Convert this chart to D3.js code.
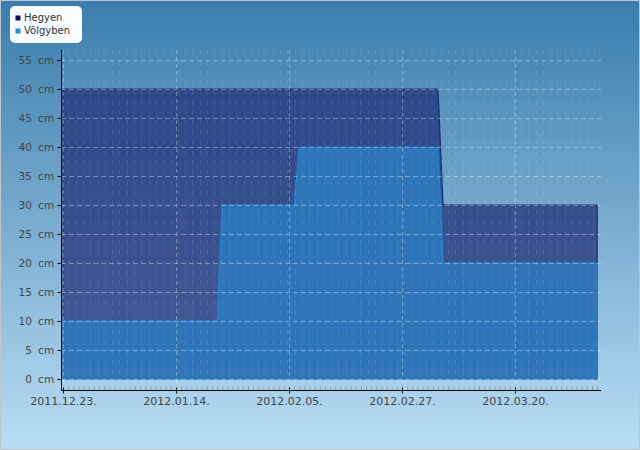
<!DOCTYPE html>
<html><head><meta charset="utf-8">
<script src="https://cdn.jsdelivr.net/npm/d3@7/dist/d3.min.js"></script>
<style>body{margin:0;padding:0;overflow:hidden}svg{display:block}</style>
</head><body>
<svg id="chart" width="640" height="450"></svg>
<script>
// ---- data ----
const seriesNames = ["Hegyen", "Völgyben"];
const hegyenDates = ["2011-12-23", "2012-03-05", "2012-03-06", "2012-04-05"];
const hegyenValues = [50, 50, 30, 30];
const volgyDates = ["2011-12-23", "2012-01-22", "2012-01-23", "2012-02-06", "2012-02-07", "2012-03-05", "2012-03-06", "2012-04-05"];
const volgyValues = [10, 10, 30, 30, 40, 40, 20, 20];
const xTickLabels = ["2011.12.23.", "2012.01.14.", "2012.02.05.", "2012.02.27.", "2012.03.20."];
const yTickValues = [0, 5, 10, 15, 20, 25, 30, 35, 40, 45, 50, 55];

const W = 640, H = 450;
const svg = d3.select("#chart");
const parse = d3.utcParse("%Y-%m-%d");
const tickParse = d3.utcParse("%Y.%m.%d.");
const DAY = 864e5;

const defs = svg.append("defs");
const bg = defs.append("linearGradient").attr("id", "bg").attr("x1", 0).attr("y1", 0).attr("x2", 0).attr("y2", 1);
bg.append("stop").attr("offset", "0%").attr("stop-color", "#3a7dac");
bg.append("stop").attr("offset", "100%").attr("stop-color", "#b9ddf4");

svg.append("rect").attr("x", 0.5).attr("y", 0.5).attr("width", W - 1).attr("height", H - 1)
  .attr("fill", "url(#bg)").attr("stroke", "#c4c4c4");

const pLeft = 61, pRight = 601, pTop = 50, pBottom = 390;
const start = parse(hegyenDates[0]);
const x = d3.scaleUtc()
  .domain([new Date(+start - 0.4 * DAY), new Date(+start + 104.75 * DAY)])
  .range([pLeft, pRight]);
const y = d3.scaleLinear().domain([-1.9, 56.72]).range([pBottom, pTop]);

const hegyen = hegyenDates.map((d, i) => ({ date: parse(d), value: hegyenValues[i] }));
const volgy = volgyDates.map((d, i) => ({ date: parse(d), value: volgyValues[i] }));

const area = d3.area().x(d => x(d.date)).y0(y(0)).y1(d => y(d.value));

svg.append("path").datum(hegyen).attr("d", area)
  .attr("fill", "rgb(29,43,114)").attr("fill-opacity", 0.7)
  .attr("stroke", "#1b2a6e").attr("stroke-width", 1.2);
svg.append("path").datum(volgy).attr("d", area)
  .attr("fill", "rgb(45,121,188)").attr("fill-opacity", 0.9)
  .attr("stroke", "#1f86d4").attr("stroke-width", 1.2);

// grid
const majorDates = xTickLabels.map(t => tickParse(t));
const days = d3.utcDay.range(x.domain()[0], x.domain()[1]);
const grid = svg.append("g");
grid.selectAll(".minv").data(d3.range(pLeft + 7.3, pRight, 7.3)).join("line")
  .attr("x1", d => Math.round(d) + 0.5).attr("x2", d => Math.round(d) + 0.5)
  .attr("y1", pTop).attr("y2", pBottom)
  .attr("stroke", "#fff").attr("stroke-opacity", 0.09).attr("stroke-dasharray", "5,5");
grid.selectAll(".majv").data(majorDates).join("line")
  .attr("x1", d => Math.round(x(d)) + 0.5).attr("x2", d => Math.round(x(d)) + 0.5)
  .attr("y1", pTop).attr("y2", pBottom)
  .attr("stroke", "#fff").attr("stroke-opacity", 0.3).attr("stroke-dasharray", "4,3");
grid.selectAll(".h").data(yTickValues).join("line")
  .attr("x1", pLeft).attr("x2", pRight)
  .attr("y1", d => Math.round(y(d)) + 0.5).attr("y2", d => Math.round(y(d)) + 0.5)
  .attr("stroke", "#fff").attr("stroke-opacity", 0.35).attr("stroke-dasharray", "5,3");

// axes
const font = "'DejaVu Sans', sans-serif";
const yAxis = svg.append("g").attr("transform", `translate(${pLeft + 0.5},0)`)
  .call(d3.axisLeft(y).tickValues(yTickValues).tickSize(4).tickPadding(3).tickFormat(d => d + "\u2002cm"));
yAxis.select(".domain").attr("d", `M0,${pTop}V${pBottom}`).attr("stroke", "#000");
yAxis.selectAll(".tick line").attr("stroke", "#000");
yAxis.selectAll("text").attr("font-family", font).attr("font-size", 10.5).attr("letter-spacing", 0.3)
  .attr("fill", "#444");

const xMinor = svg.append("g").attr("transform", `translate(0,${pBottom + 0.5})`)
  .call(d3.axisTop(x).tickValues(days).tickSize(4).tickFormat(""));
xMinor.select(".domain").remove();
xMinor.selectAll(".tick line").attr("stroke", "#555").attr("stroke-opacity", 0.4);

const xAxis = svg.append("g").attr("transform", `translate(0,${pBottom + 0.5})`)
  .call(d3.axisBottom(x).tickValues(majorDates).tickSize(3).tickPadding(4).tickFormat(d3.utcFormat("%Y.%m.%d.")));
xAxis.select(".domain").attr("d", `M${pLeft},0H${pRight}`).attr("stroke", "#000");
xAxis.selectAll(".tick line").attr("y1", -3).attr("y2", 3).attr("stroke", "#000");
xAxis.selectAll("text").attr("font-family", font).attr("font-size", 11).attr("fill", "#444");

// legend
const lg = svg.append("g");
lg.append("rect").attr("x", 10).attr("y", 6).attr("width", 72).attr("height", 37).attr("rx", 5)
  .attr("fill", "#f8fcff");
const legendColors = ["#0b0b62", "#1b93dc"];
seriesNames.forEach((n, i) => {
  lg.append("rect").attr("x", 15.5).attr("y", 15.5 + i * 13).attr("width", 5).attr("height", 5).attr("fill", legendColors[i]);
  lg.append("text").attr("x", 24).attr("y", 20.5 + i * 13).text(n)
    .attr("font-family", font).attr("font-size", 10).attr("fill", "#333");
});
</script>
</body></html>
